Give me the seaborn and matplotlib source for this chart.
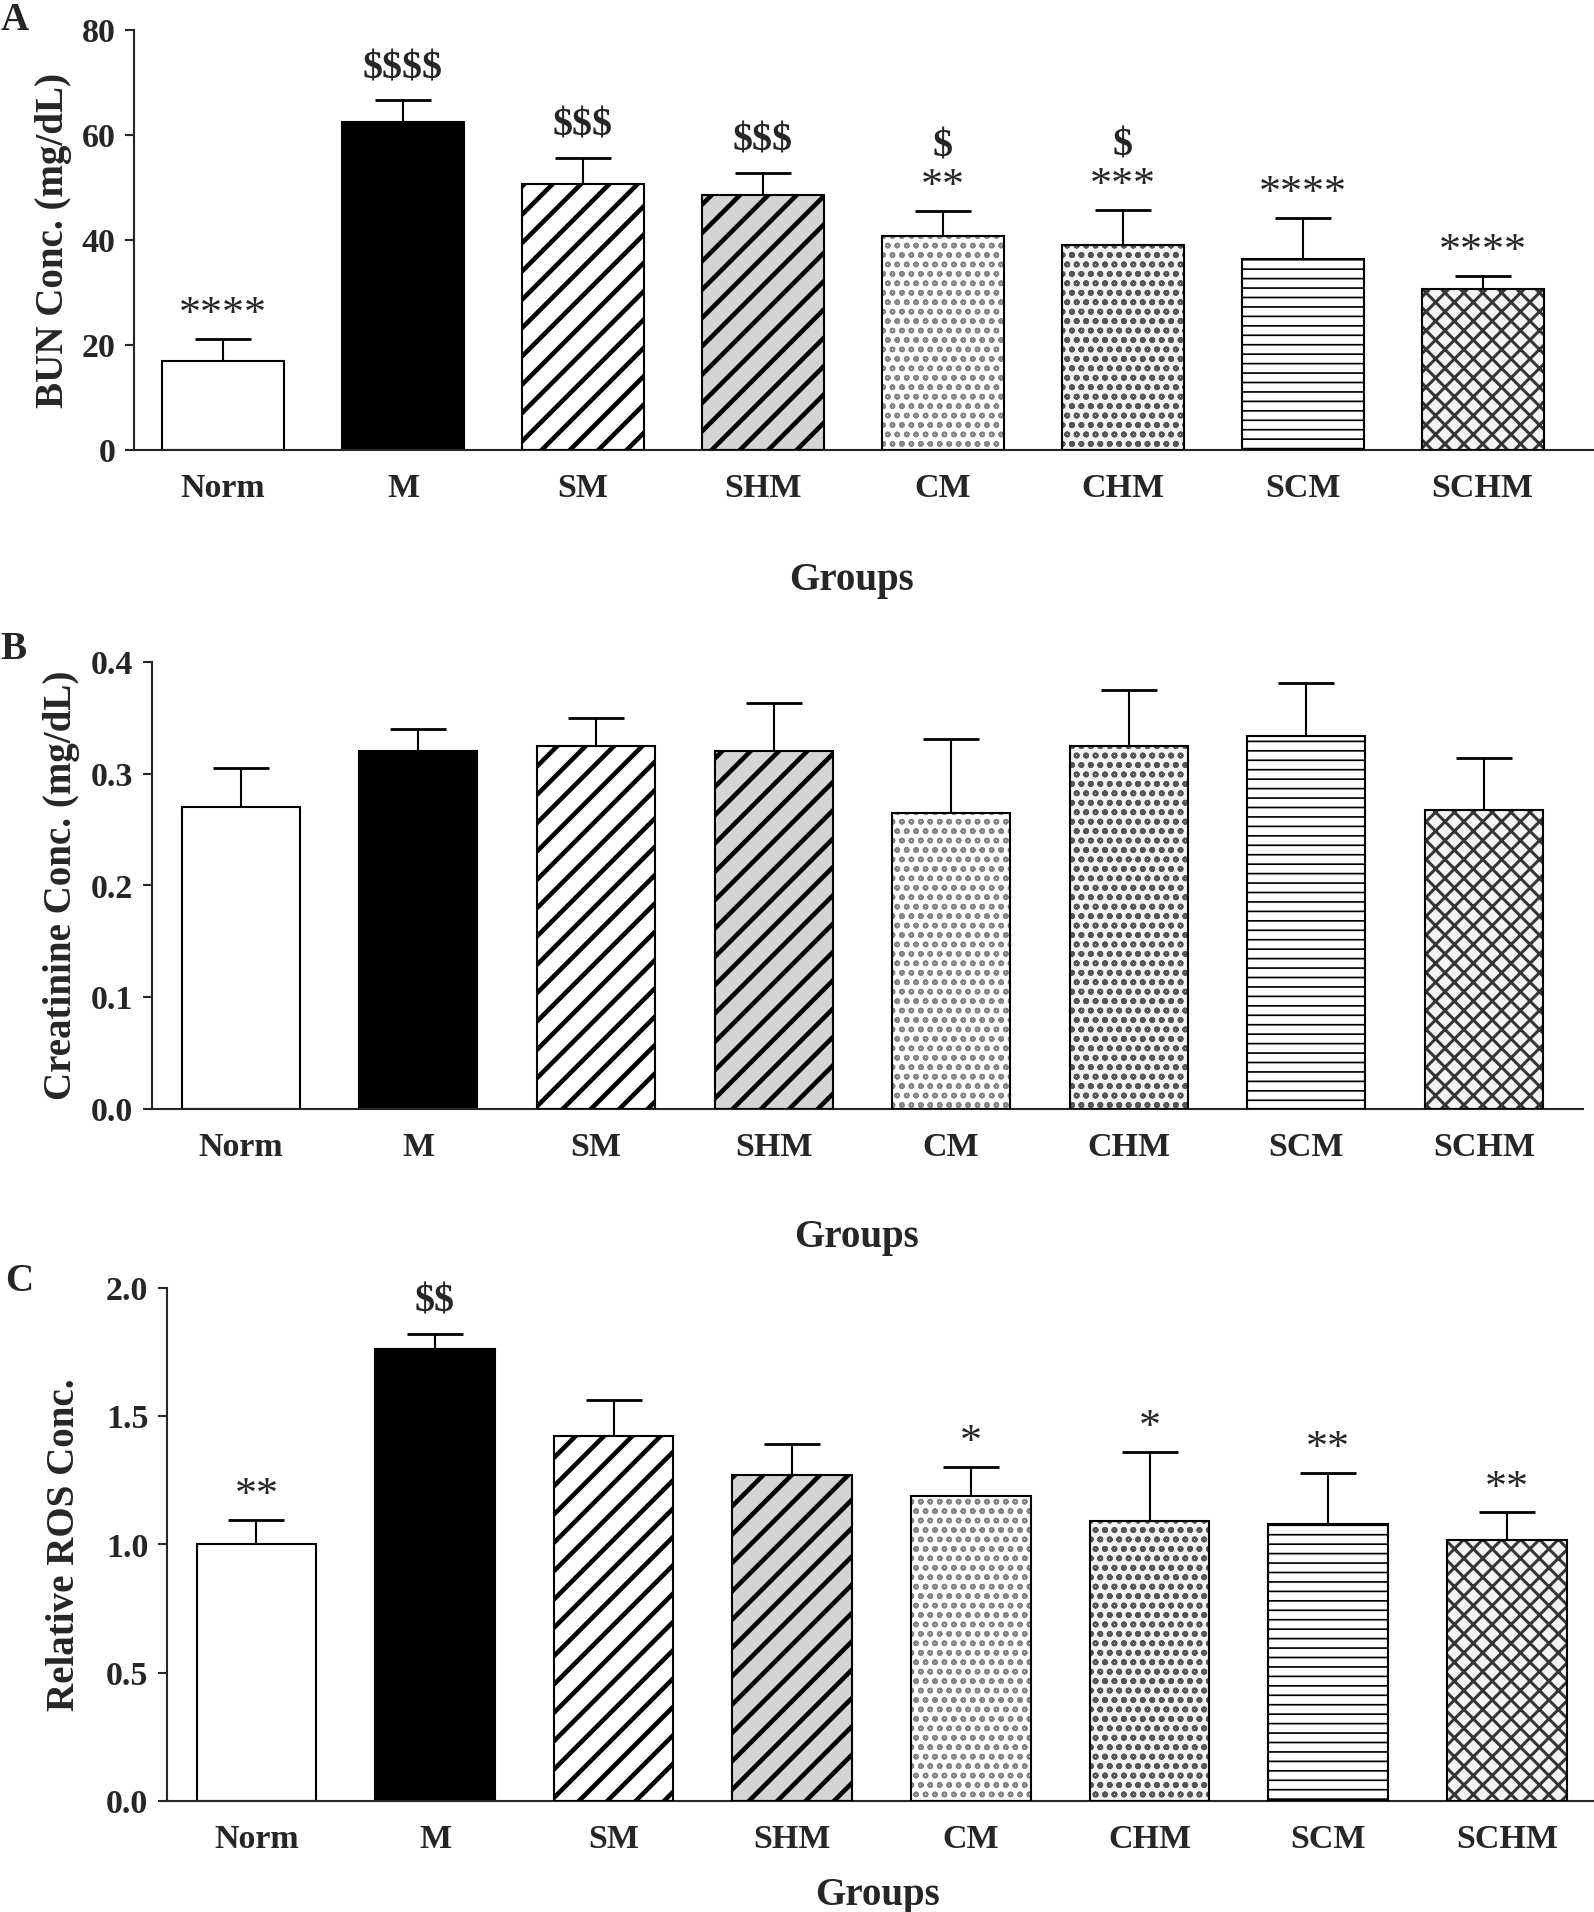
import numpy as np
import seaborn as sns
import matplotlib.pyplot as plt
from matplotlib.patches import Rectangle

sns.set_style("ticks")
plt.rcParams['font.family'] = ['Liberation Serif', 'DejaVu Serif']
plt.rcParams['font.weight'] = 'bold'

DPI = 170
W, H = 1594, 1912


def pt(px):
    # sizes are given in output pixels
    return px * 72 / DPI


# data
groups = ['Norm', 'M', 'SM', 'SHM', 'CM', 'CHM', 'SCM', 'SCHM']

bun_mean = [17.0, 62.4, 50.6, 48.6, 40.8, 39.0, 36.3, 30.7]
bun_sd = [4.1, 4.2, 5.0, 4.2, 4.8, 6.8, 7.9, 2.4]
bun_stars = ['****', '', '', '', '**', '***', '****', '****']
bun_dollars = ['', '$$$$', '$$$', '$$$', '$', '$', '', '']

crea_mean = [0.270, 0.320, 0.325, 0.320, 0.265, 0.325, 0.334, 0.267]
crea_sd = [0.035, 0.020, 0.025, 0.043, 0.066, 0.050, 0.047, 0.047]

ros_mean = [1.000, 1.760, 1.423, 1.272, 1.190, 1.091, 1.081, 1.016]
ros_sd = [0.096, 0.060, 0.139, 0.120, 0.113, 0.269, 0.199, 0.109]
ros_stars = ['**', '', '', '', '*', '*', '**', '**']
ros_dollars = ['', '$$', '', '', '', '', '', '']

# bar looks: (face, hatch, hatch colour, hatch linewidth in px)
looks = [
    ('white', None, 'black', 0),
    ('black', None, 'black', 0),
    ('white', '//', 'black', 4.6),
    ('#d4d4d4', '//', 'black', 4.6),
    ('white', 'ooo', '#858585', 2.0),
    ('#f2f2f2', 'ooo', '#555555', 2.2),
    ('white', '---', 'black', 1.7),
    ('#f4f4f4', 'xxx', '#353535', 3.0),
]

fig = plt.figure(figsize=((W + 0.3) / DPI, (H + 0.3) / DPI), dpi=DPI)


def panel(rect, mean, sd, width, xlim, ylim, step, ylabel, ylab_x, xlab_x, xlab_pad,
          stars=None, dollars=None):
    ax = fig.add_axes(rect)
    sns.barplot(x=groups, y=mean, ax=ax, color='white', width=width,
                errorbar=None, saturation=1, edgecolor='black', linewidth=pt(2.1))
    for p, (fc, h, hc, hlw) in zip(ax.patches, looks):
        p.set_facecolor(fc)
        if h:
            p.set_hatch(h)
            p.set_edgecolor(hc)
            p.set_linewidth(0)
            if hasattr(p, 'set_hatch_linewidth'):
                p.set_hatch_linewidth(pt(hlw))
            ax.add_patch(Rectangle((p.get_x(), p.get_y()), p.get_width(), p.get_height(),
                                   fill=False, edgecolor='black', linewidth=pt(2.1), zorder=3))
    x = np.arange(len(groups))
    eb = ax.errorbar(x, mean, yerr=[np.zeros(len(sd)), sd], fmt='none', ecolor='black',
                     elinewidth=pt(2.1), capsize=pt(28), capthick=pt(2.8), zorder=1)
    eb[1][0].set_visible(False)  # only the upper cap
    top = np.array(mean) + np.array(sd)
    if stars is not None:
        for i, (s, d) in enumerate(zip(stars, dollars)):
            if s:
                ax.annotate(s, (i, top[i]), xytext=(0, pt(24)), textcoords='offset points',
                            ha='center', va='center', fontsize=pt(44), fontweight='normal',
                            parse_math=False)
            if d:
                off = pt(64) if s else pt(32)
                ax.annotate(d, (i, top[i]), xytext=(0, off), textcoords='offset points',
                            ha='center', va='center', fontsize=pt(40), fontweight='bold',
                            parse_math=False)
    ax.set_xlim(xlim)
    ax.set_ylim(ylim)
    ax.set_yticks(np.arange(ylim[0], ylim[1] + step / 2, step))
    sns.despine(ax=ax)
    for s in ('left', 'bottom'):
        ax.spines[s].set_linewidth(pt(2.1))
    ax.tick_params(axis='y', length=pt(9), width=pt(2.1), pad=pt(9.7), labelsize=pt(34))
    ax.tick_params(axis='x', length=0, pad=pt(23), labelsize=pt(34))
    for t in ax.get_xticklabels() + ax.get_yticklabels():
        t.set_fontweight('bold')
    ax.set_ylabel(ylabel, fontsize=pt(39), fontweight='bold', va='center')
    ax.yaxis.set_label_coords(ylab_x, 0.5)
    ax.set_xlabel('Groups', fontsize=pt(39), fontweight='bold', labelpad=pt(xlab_pad))
    ax.xaxis.label.set_x(xlab_x)
    return ax


panel([0.0841, 0.7646, 0.9159, 0.2195], bun_mean, bun_sd, 0.68, (-0.494, 7.62),
      (0, 80), 20, 'BUN Conc. (mg/dL)', -0.0555, 0.491, 58, bun_stars, bun_dollars)
panel([0.0954, 0.4200, 0.8977, 0.2338], crea_mean, crea_sd, 0.665, (-0.50, 7.56),
      (0, 0.4), 0.1, 'Creatinine Conc. (mg/dL)', -0.0636, 0.492, 56)
panel([0.1048, 0.0581, 0.8952, 0.2683], ros_mean, ros_sd, 0.67, (-0.50, 7.49),
      (0, 2.0), 0.5, 'Relative ROS Conc.', -0.072, 0.498, 22, ros_stars, ros_dollars)

for lab, px, py in [('A', 15, 20), ('B', 13, 649), ('C', 19, 1281)]:
    fig.text(px / W, 1 - py / H, lab, ha='center', va='center',
             fontsize=pt(39), fontweight='bold')

fig.savefig('out.png', dpi=DPI)
